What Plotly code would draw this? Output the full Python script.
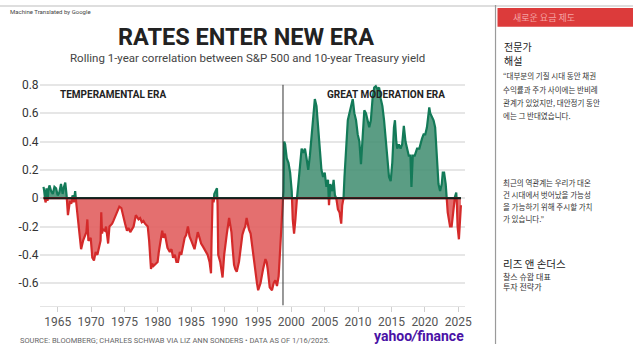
import plotly.graph_objects as go

# ---------------- data ----------------
years = [
    1962.88, 1963.03, 1963.18, 1963.33, 1963.48, 1963.62, 1963.77, 1964.02, 1964.27, 1964.52,
    1964.76, 1965.00, 1965.25, 1965.50, 1965.75, 1965.95, 1966.14, 1966.34, 1966.54, 1966.83,
    1967.03, 1967.23, 1967.42, 1967.62, 1967.82, 1968.12, 1968.32, 1968.51, 1968.81, 1969.11,
    1969.30, 1969.45, 1969.60, 1969.95, 1970.19, 1970.44, 1970.69, 1970.95, 1971.18, 1971.43,
    1971.53, 1971.65, 1971.77, 1972.07, 1972.25, 1972.42, 1972.56, 1972.76, 1973.16, 1973.35,
    1973.55, 1973.90, 1974.24, 1974.54, 1974.88, 1975.10, 1975.38, 1975.60, 1975.87, 1976.10,
    1976.37, 1976.71, 1977.11, 1977.35, 1977.60, 1977.85, 1978.09, 1978.49, 1978.70, 1978.98,
    1979.15, 1979.33, 1979.58, 1979.97, 1980.15, 1980.32, 1980.66, 1980.85, 1981.06, 1981.25,
    1981.45, 1981.80, 1982.05, 1982.29, 1982.55, 1982.79, 1983.03, 1983.30, 1983.52, 1984.02,
    1984.25, 1984.51, 1984.75, 1985.01, 1985.25, 1985.50, 1985.75, 1985.99, 1986.25, 1986.49,
    1986.75, 1986.98, 1987.25, 1987.47, 1987.75, 1987.97, 1988.05, 1988.12, 1988.21, 1988.35,
    1988.46, 1988.70, 1988.86, 1988.95, 1989.05, 1989.35, 1989.50, 1989.70, 1989.94, 1990.15,
    1990.34, 1990.68, 1990.85, 1991.03, 1991.20, 1991.42, 1991.60, 1991.82, 1992.16, 1992.40,
    1992.66, 1992.91, 1993.10, 1993.30, 1993.65, 1993.90, 1994.14, 1994.40, 1994.63, 1994.85,
    1995.03, 1995.20, 1995.38, 1995.77, 1996.12, 1996.30, 1996.46, 1996.76, 1997.10, 1997.35,
    1997.60, 1997.85, 1998.10, 1998.34, 1998.59, 1998.83, 1998.93, 1999.07, 1999.20, 1999.32,
    1999.57, 1999.82, 2000.06, 2000.21, 2000.41, 2000.61, 2000.80, 2001.05, 2001.30, 2001.54,
    2001.79, 2002.04, 2002.28, 2002.53, 2002.78, 2003.03, 2003.27, 2003.52, 2003.77, 2004.01,
    2004.26, 2004.51, 2004.75, 2005.00, 2005.25, 2005.49, 2005.64, 2005.84, 2006.14, 2006.33,
    2006.53, 2006.73, 2006.98, 2007.22, 2007.47, 2007.62, 2007.82, 2007.96, 2008.21, 2008.46,
    2008.70, 2008.95, 2009.20, 2009.44, 2009.69, 2009.94, 2010.19, 2010.43, 2010.68, 2010.93,
    2011.17, 2011.42, 2011.67, 2011.91, 2012.16, 2012.41, 2012.65, 2012.90, 2013.15, 2013.40,
    2013.64, 2013.89, 2014.14, 2014.38, 2014.63, 2014.88, 2015.12, 2015.37, 2015.52, 2015.72,
    2015.86, 2016.11, 2016.36, 2016.60, 2016.85, 2017.10, 2017.35, 2017.59, 2017.84, 2017.99,
    2018.19, 2018.48, 2018.83, 2019.17, 2019.57, 2019.81, 2020.06, 2020.31, 2020.56, 2020.66,
    2020.80, 2021.05, 2021.30, 2021.54, 2021.79, 2022.04, 2022.28, 2022.53, 2022.68, 2022.88,
    2023.12, 2023.27, 2023.42, 2023.62, 2023.77, 2024.01, 2024.16, 2024.36, 2024.51, 2024.70,
    2024.80, 2024.90, 2025.10, 2025.25, 2025.40,
]
corr = [
    0.08, 0.02, -0.03, 0.07, -0.02, 0.06, 0.09, 0.05, 0.03, 0.08,
    0.07, 0.02, 0.04, 0.10, 0.03, 0.08, 0.11, 0.02, -0.12, -0.02,
    -0.04, 0.02, -0.03, 0.05, -0.05, -0.18, -0.28, -0.36, -0.30, -0.27,
    -0.24, -0.15, -0.30, -0.28, -0.42, -0.44, -0.38, -0.40, -0.36, -0.30,
    -0.10, -0.25, -0.22, -0.23, -0.20, -0.25, -0.32, -0.20, -0.18, -0.16,
    -0.14, -0.10, -0.06, -0.07, -0.15, -0.18, -0.23, -0.21, -0.24, -0.22,
    -0.20, -0.12, -0.15, -0.14, -0.17, -0.16, -0.18, -0.20, -0.30, -0.50,
    -0.46, -0.48, -0.47, -0.45, -0.38, -0.32, -0.23, -0.28, -0.25, -0.30,
    -0.35, -0.38, -0.36, -0.42, -0.40, -0.45, -0.45, -0.38, -0.40, -0.28,
    -0.26, -0.20, -0.27, -0.30, -0.33, -0.36, -0.30, -0.24, -0.28, -0.32,
    -0.34, -0.36, -0.38, -0.40, -0.45, -0.53, -0.30, -0.05, 0.00, -0.03,
    0.03, 0.05, 0.07, -0.05, -0.40, -0.45, -0.50, -0.56, -0.40, -0.30,
    -0.25, -0.14, -0.20, -0.24, -0.35, -0.47, -0.50, -0.52, -0.45, -0.35,
    -0.26, -0.22, -0.20, -0.14, -0.22, -0.25, -0.35, -0.45, -0.55, -0.60,
    -0.65, -0.62, -0.60, -0.50, -0.43, -0.45, -0.50, -0.63, -0.65, -0.60,
    -0.58, -0.62, -0.55, -0.35, -0.10, 0.05, 0.40, 0.38, 0.32, 0.28,
    0.25, 0.18, 0.05, -0.15, -0.25, -0.15, -0.02, 0.10, 0.25, 0.35,
    0.32, 0.35, 0.28, 0.20, 0.30, 0.45, 0.60, 0.70, 0.65, 0.50,
    0.35, 0.20, 0.15, 0.18, 0.08, 0.13, -0.05, 0.10, 0.05, 0.13,
    0.02, 0.00, -0.08, -0.10, -0.18, -0.05, 0.00, 0.15, 0.35, 0.55,
    0.60, 0.65, 0.70, 0.60, 0.55, 0.45, 0.40, 0.24, 0.40, 0.62,
    0.60, 0.55, 0.50, 0.55, 0.70, 0.78, 0.79, 0.77, 0.78, 0.70,
    0.65, 0.55, 0.40, 0.25, 0.15, 0.12, 0.25, 0.50, 0.55, 0.40,
    0.35, 0.38, 0.35, 0.38, 0.51, 0.40, 0.35, 0.30, 0.30, 0.08,
    0.30, 0.30, 0.35, 0.35, 0.42, 0.45, 0.45, 0.50, 0.60, 0.64,
    0.60, 0.58, 0.55, 0.50, 0.30, 0.10, 0.05, 0.10, 0.18, 0.18,
    0.10, 0.00, -0.10, -0.18, -0.20, -0.20, -0.15, -0.05, 0.01, 0.04,
    -0.05, -0.20, -0.29, -0.20, -0.05,
]
era_split = 1998.75
era_labels = ["TEMPERAMENTAL ERA", "GREAT MODERATION ERA"]
y_ticks = [0.8, 0.6, 0.4, 0.2, 0, -0.2, -0.4, -0.6]
y_tick_text = ["0.8", "0.6", "0.4", "0.2", "0", "-0.2", "-0.4", "-0.6"]
x_ticks = list(range(1965, 2030, 5))

title = "RATES ENTER NEW ERA"
subtitle = "Rolling 1-year correlation between S&P 500 and 10-year Treasury yield"
source = "SOURCE: BLOOMBERG; CHARLES SCHWAB VIA LIZ ANN SONDERS • DATA AS OF 1/16/2025."

side_header = "새로운 요금 제도"
side_title = ["전문가", "해설"]
side_quote1 = ["“대부분의 기질 시대 동안 채권", "수익률과 주가 사이에는 반비례",
               "관계가 있었지만, 대안정기 동안", "에는 그 반대였습니다."]
side_quote2 = ["최근의 역관계는 우리가 대온", "건 시대에서 벗어났을 가능성",
               "을 가능하기 위해 주시할 가치", "가 있습니다.”"]
side_name = "리즈 앤 손더스"
side_role = ["찰스 슈왑 대표", "투자 전략가"]

# --------------- split into positive / negative parts ---------------
xs, ys = [], []
for i, (x, y) in enumerate(zip(years, corr)):
    if i > 0:
        x0, y0 = years[i - 1], corr[i - 1]
        if (y0 > 0 > y) or (y0 < 0 < y):
            xc = x0 + (0 - y0) * (x - x0) / (y - y0)
            xs.append(xc)
            ys.append(0.0)
    xs.append(x)
    ys.append(y)
y_pos = [max(v, 0.0) for v in ys]
y_neg = [min(v, 0.0) for v in ys]

W, H = 640, 344
def px(x):
    return x / W
def py(y):
    return 1 - y / H

fig = go.Figure()
fig.add_trace(go.Scatter(x=xs, y=y_pos, mode="lines", fill="tozeroy",
                         line=dict(color="#137a58", width=2.2),
                         fillcolor="rgba(62,140,110,0.85)", hoverinfo="skip"))
fig.add_trace(go.Scatter(x=xs, y=y_neg, mode="lines", fill="tozeroy",
                         line=dict(color="#d42a2a", width=2.2),
                         fillcolor="rgba(225,95,95,0.9)", hoverinfo="skip"))

y_lo, y_hi = -0.758, 0.814
fig.update_layout(
    width=W, height=H, margin=dict(l=0, r=0, t=0, b=0),
    paper_bgcolor="white", plot_bgcolor="white", showlegend=False,
    xaxis=dict(domain=[px(40), px(470)], range=[1962.29, 2025.99],
               tickvals=x_ticks, ticktext=[str(t) for t in x_ticks],
               showgrid=False, zeroline=False, showline=True, linecolor="#e4e4e4",
               ticks="outside", ticklen=5, tickcolor="#d0d0d0",
               tickfont=dict(family="Roboto", size=12, color="#555")),
    yaxis=dict(domain=[py(305), py(79)], range=[y_lo, y_hi],
               tickvals=y_ticks, ticktext=y_tick_text,
               showgrid=True, gridcolor="#e6e6e6", gridwidth=1.5, zeroline=False,
               ticks="", ticklabelstandoff=0,
               tickfont=dict(family="Roboto", size=12, color="#333")),
)

shapes = [
    dict(type="line", xref="x", yref="y", x0=years[0], x1=years[-1], y0=0, y1=0,
         line=dict(color="#1a1a1a", width=2), layer="above"),
    dict(type="line", xref="x", yref="y", x0=era_split, x1=era_split, y0=y_lo, y1=y_ticks[0],
         line=dict(color="#333", width=1), layer="above"),
    dict(type="rect", xref="paper", yref="paper", x0=0, x1=1, y0=py(2), y1=1,
         fillcolor="#dedede", line=dict(width=0)),
    dict(type="line", xref="paper", yref="paper", x0=px(501), x1=px(501), y0=0, y1=1,
         line=dict(color="#9a9a9a", width=1.2)),
    dict(type="rect", xref="paper", yref="paper", x0=px(503), x1=1, y0=py(22), y1=py(3),
         fillcolor="#dc3b3b", line=dict(width=0)),
]
fig.update_layout(shapes=shapes)

ann = []
def text(x, y, s, size, color="#222", bold=False, family="Roboto", xanchor="left"):
    ann.append(dict(xref="paper", yref="paper", x=px(x), y=py(y), text=f"<b>{s}</b>" if bold else s,
                    showarrow=False, xanchor=xanchor, yanchor="middle",
                    font=dict(family=family, size=size, color=color)))

text(8, 7, "Machine Translated by Google", 6, "#444")
text(249, 32, title, 23.5, "#222", True, xanchor="center")
text(250, 54, subtitle, 11.5, "#444", xanchor="center")
text(114, 91, era_labels[0], 10, "#222", True, xanchor="center")
text(390, 91, era_labels[1], 10, "#222", True, xanchor="center")
text(18, 340, source, 7.5, "#666")
text(424, 336, "<b>yahoo<i>/</i>finance</b>", 14, "#4a12a6", False, xanchor="center")

kr = "Noto Sans CJK KR"
text(508, 42, side_title[0], 10, "#222", family=kr)
text(508, 56, side_title[1], 10, "#222", family=kr)
text(550, 13, side_header, 9, "#f4a3a3", family=kr, xanchor="center")
for i, s in enumerate(side_quote1):
    text(507, 72 + i * 13.3, s, 7.5, "#333", family=kr)
for i, s in enumerate(side_quote2):
    text(507, 180 + i * 12.3, s, 7.5, "#333", family=kr)
text(507, 262, side_name, 10.5, "#222", family=kr)
text(507, 275, side_role[0], 8, "#333", family=kr)
text(507, 286, side_role[1], 8, "#333", family=kr)

fig.update_layout(annotations=ann)
fig.write_html("out.html")
